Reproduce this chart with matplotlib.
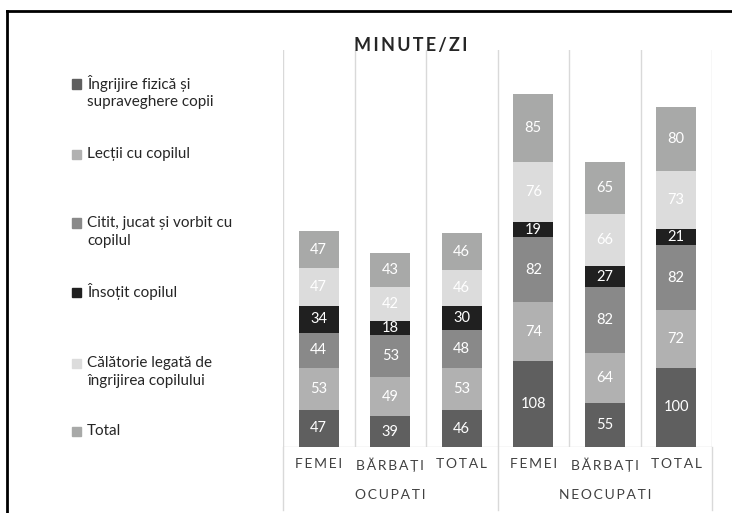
import numpy as np
import matplotlib
matplotlib.use("Agg")
import matplotlib.pyplot as plt
from matplotlib.patches import Rectangle
from matplotlib.lines import Line2D

plt.rcParams['font.family'] = ['Lato', 'DejaVu Sans']

# data (minute/zi)
groups = ['OCUPATI', 'NEOCUPATI']
cats = ['FEMEI', 'BĂRBAȚI', 'TOTAL', 'FEMEI', 'BĂRBAȚI', 'TOTAL']
series = ['Îngrijire fizică și\nsupraveghere copii',
          'Lecții cu copilul',
          'Citit, jucat și vorbit cu\ncopilul',
          'Însoțit copilul',
          'Călătorie legată de\nîngrijirea copilului',
          'Total']
ingrijire = [47, 39, 46, 108, 55, 100]
lectii = [53, 49, 53, 74, 64, 72]
citit = [44, 53, 48, 82, 82, 82]
insotit = [34, 18, 30, 19, 27, 21]
calatorie = [47, 42, 46, 76, 66, 73]
total = [47, 43, 46, 85, 65, 80]
values = [ingrijire, lectii, citit, insotit, calatorie, total]
colors = ['#5f5f5f', '#b1b1b1', '#898989', '#202020', '#dcdcdc', '#a8a9a8']

W, H = 732, 513
fig = plt.figure(figsize=(W / 100, H / 100), dpi=100)

def fx(px):
    return px / W

def fy(py):
    return 1 - py / H

ax = fig.add_axes([fx(283), fy(447), fx(712) - fx(283), fy(50) - fy(447)])
x = np.arange(len(cats))
bottom = np.zeros(len(cats))
for vals, col in zip(values, colors):
    vals = np.array(vals)
    ax.bar(x, vals, 0.56, bottom=bottom, color=col, zorder=3)
    for xi, b, v in zip(x, bottom, vals):
        ax.text(xi, b + v / 2, str(v), ha='center', va='center',
                color='white', fontsize=10.5, zorder=4)
    bottom += vals

ax.set_xlim(-0.5, len(cats) - 0.5)
ax.set_ylim(0, 500)
for s in ax.spines.values():
    s.set_visible(False)
ax.set_xticks([])
ax.set_yticks([])
for b in np.arange(-0.5, len(cats), 1):
    ax.axvline(b, color='#d9d9d9', lw=1, zorder=1)
ax.axhline(0, color='#d9d9d9', lw=1, zorder=2)

def spaced(s, sep='\u2009'):
    return sep.join(s)

# category labels
for xi, c in zip(x, cats):
    ax.text(xi, -22, spaced(c), ha='center', va='center', fontsize=10,
            color='#404040', clip_on=False)
for gi, g in enumerate(groups):
    ax.text(1 + 3 * gi, -60, spaced(g), ha='center', va='center', fontsize=10,
            color='#404040', clip_on=False)

# group separator lines below axis
for px in [283, 498, 712]:
    fig.add_artist(Line2D([fx(px), fx(px)], [fy(447), fy(510)],
                          color='#d9d9d9', lw=1))

# title
fig.text(fx(411), fy(45), spaced('MINUTE/ZI'), ha='center', va='center',
         fontsize=13, fontweight='bold', color='#262626')

# legend
leg_y = [84, 154, 223, 292, 363, 431]
for yy, lab, col in zip(leg_y, series, colors):
    fig.add_artist(Rectangle((fx(72), fy(yy + 4.5)), fx(9), 9 / H,
                             color=col, transform=fig.transFigure))
    for k, line in enumerate(lab.split('\n')):
        fig.text(fx(87), fy(yy + 18 * k), line, ha='left', va='center',
                 fontsize=11, color='#262626')

# outer border (top and left)
fig.add_artist(Line2D([fx(7), 1], [fy(11), fy(11)], color='black', lw=2))
fig.add_artist(Line2D([fx(7), fx(7)], [fy(11), 0], color='black', lw=2))

fig.savefig('out.png', dpi=100)
